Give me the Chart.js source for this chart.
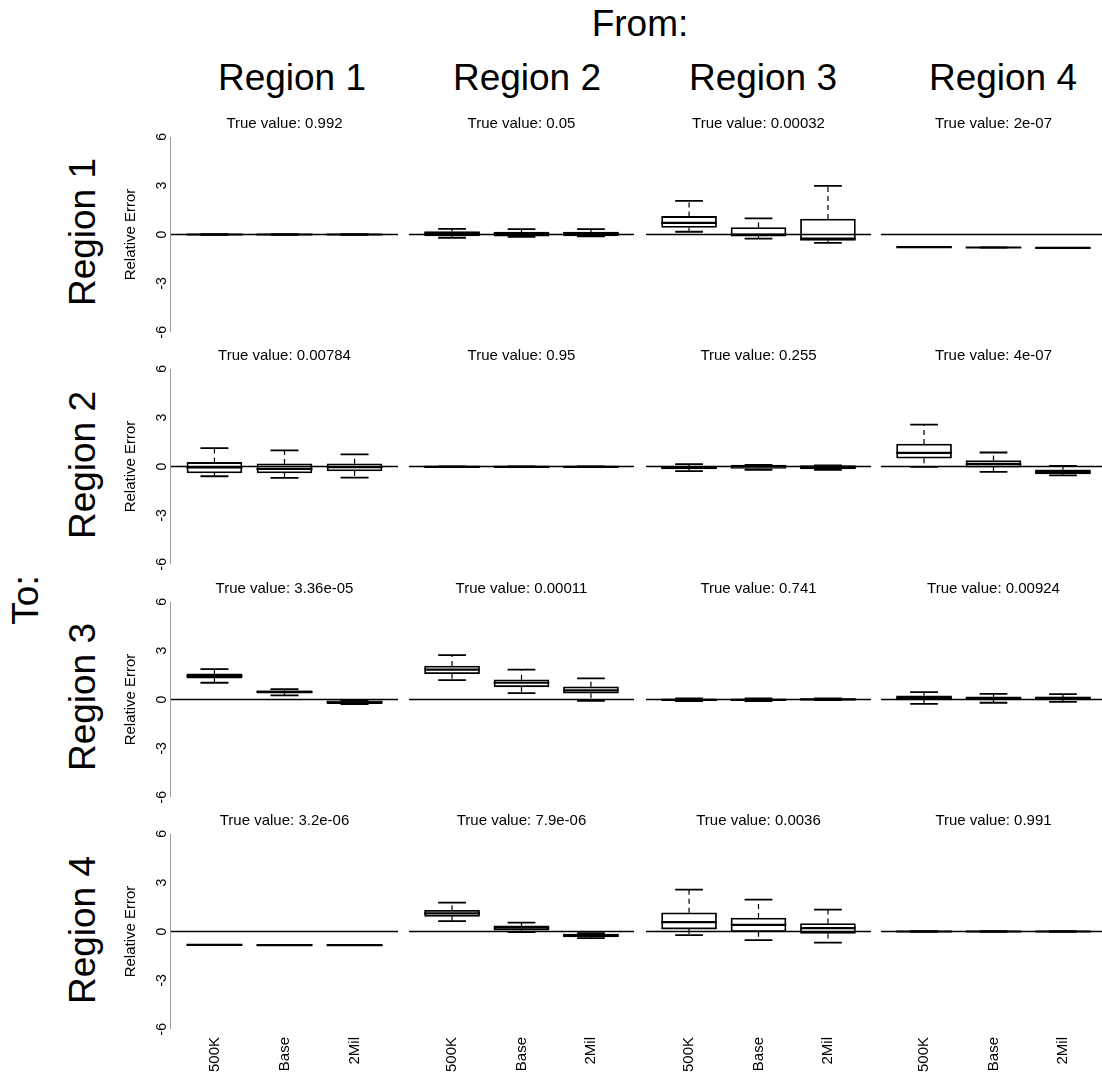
<!DOCTYPE html>
<html>
<head>
<meta charset="utf-8">
<script src="https://cdn.jsdelivr.net/npm/chart.js@4.4.0/dist/chart.umd.min.js"></script>
<style>
  html, body { margin: 0; padding: 0; background: #fff; overflow: hidden; }
  body { width: 1102px; height: 1087px; position: relative; font-family: "Liberation Sans", Arial, sans-serif; }
  canvas { position: absolute; }
  .lbl { position: absolute; font-size: 37px; line-height: 1; white-space: nowrap; color: #000; transform: translate(-50%, -50%); }
  .rot { transform: translate(-50%, -50%) rotate(-90deg); }
</style>
</head>
<body>
<script>
const groups = ['500K', 'Base', '2Mil']
const fromRegions = ['Region 1', 'Region 2', 'Region 3', 'Region 4']
const toRegions = ['Region 1', 'Region 2', 'Region 3', 'Region 4']
const trueValues = [
  '0.992', '0.05', '0.00032', '2e-07',
  '0.00784', '0.95', '0.255', '4e-07',
  '3.36e-05', '0.00011', '0.741', '0.00924',
  '3.2e-06', '7.9e-06', '0.0036', '0.991'
]
const yTicks = [-6, -3, 0, 3, 6]

// box stats, one triple (500K, Base, 2Mil) per panel, row by row (To), then column (From)
const lowWhisker = [
  [-0.02, -0.02, -0.02], [-0.2, -0.15, -0.12], [0.17, -0.25, -0.51], [-0.78, -0.8, -0.82],
  [-0.6, -0.7, -0.68], [-0.04, -0.04, -0.04], [-0.28, -0.2, -0.2], [-0.02, -0.33, -0.55],
  [1.03, 0.25, -0.28], [1.19, 0.39, -0.08], [-0.1, -0.1, -0.03], [-0.27, -0.2, -0.14],
  [-0.82, -0.84, -0.84], [0.64, -0.04, -0.41], [-0.22, -0.53, -0.68], [-0.02, -0.02, -0.02]
]
const lowerQuart = [
  [-0.01, -0.01, -0.01], [-0.08, -0.1, -0.08], [0.43, -0.1, -0.37], [-0.78, -0.8, -0.82],
  [-0.4, -0.39, -0.27], [-0.03, -0.03, -0.03], [-0.15, -0.12, -0.15], [0.51, -0.04, -0.45],
  [1.31, 0.39, -0.25], [1.58, 0.78, 0.39], [-0.06, -0.06, -0.02], [-0.02, -0.02, -0.02],
  [-0.82, -0.84, -0.84], [0.93, 0.08, -0.33], [0.15, -0.02, -0.12], [-0.01, -0.01, -0.01]
]
const medians = [
  [0, 0, 0], [0.05, 0.02, 0.05], [0.72, 0, -0.25], [-0.78, -0.8, -0.82],
  [-0.05, -0.14, -0.04], [-0.02, -0.02, -0.02], [-0.05, 0, -0.05], [0.84, 0.16, -0.35],
  [1.44, 0.47, -0.17], [1.83, 1.03, 0.56], [-0.02, -0.02, 0.01], [0.1, 0.05, 0.1],
  [-0.82, -0.84, -0.84], [1.11, 0.23, -0.25], [0.58, 0.41, 0.21], [0, 0, 0]
]
const upperQuart = [
  [0.01, 0.01, 0.01], [0.18, 0.15, 0.15], [1.11, 0.43, 0.95], [-0.78, -0.8, -0.82],
  [0.25, 0.16, 0.17], [-0.01, -0.01, -0.01], [0.02, 0.08, 0.05], [1.38, 0.37, -0.2],
  [1.58, 0.54, -0.08], [2.06, 1.21, 0.78], [0.03, 0.03, 0.04], [0.23, 0.17, 0.15],
  [-0.82, -0.84, -0.84], [1.3, 0.35, -0.16], [1.15, 0.83, 0.49], [0.01, 0.01, 0.01]
]
const highWhisker = [
  [0.02, 0.02, 0.02], [0.35, 0.33, 0.33], [2.06, 0.99, 2.99], [-0.78, -0.8, -0.82],
  [1.13, 0.99, 0.74], [0, 0, 0], [0.15, 0.1, 0.07], [2.57, 0.86, 0.04],
  [1.87, 0.64, -0.06], [2.72, 1.83, 1.3], [0.06, 0.06, 0.06], [0.45, 0.35, 0.33],
  [-0.82, -0.84, -0.84], [1.77, 0.54, -0.1], [2.57, 1.96, 1.34], [0.02, 0.02, 0.02]
]

const FONT = '"Liberation Sans", Arial, sans-serif'
const plotLeft = [171, 409, 646, 881]
const zeroY = [234, 466.5, 699, 931.5]

// whiskers, staples, medians, zero line, left axis line
const boxExtras = {
  id: 'boxExtras',
  afterDatasetsDraw (chart, args, opts) {
    const { ctx, chartArea } = chart
    const x = chart.scales.x
    const y = chart.scales.y
    const p = opts.panel
    const half = x.getPixelForValue(1.4) - x.getPixelForValue(1)
    const staple = half / 2
    ctx.save()
    ctx.strokeStyle = '#000'
    for (let i = 0; i < groups.length; i++) {
      const cx = x.getPixelForValue(i + 1)
      const lo = y.getPixelForValue(lowWhisker[p][i])
      const q1 = y.getPixelForValue(lowerQuart[p][i])
      const q3 = y.getPixelForValue(upperQuart[p][i])
      const hi = y.getPixelForValue(highWhisker[p][i])
      const md = y.getPixelForValue(medians[p][i])
      ctx.lineWidth = 1.2
      ctx.setLineDash([5, 4])
      ctx.beginPath()
      ctx.moveTo(cx, q3); ctx.lineTo(cx, hi)
      ctx.moveTo(cx, q1); ctx.lineTo(cx, lo)
      ctx.stroke()
      ctx.setLineDash([])
      ctx.lineWidth = 1.8
      ctx.beginPath()
      ctx.moveTo(cx - staple, hi); ctx.lineTo(cx + staple, hi)
      ctx.moveTo(cx - staple, lo); ctx.lineTo(cx + staple, lo)
      ctx.stroke()
      ctx.lineWidth = 2.2
      ctx.beginPath()
      ctx.moveTo(cx - half, md); ctx.lineTo(cx + half, md)
      ctx.stroke()
    }
    const z = y.getPixelForValue(0)
    ctx.lineWidth = 1.3
    ctx.beginPath()
    ctx.moveTo(chartArea.left, z); ctx.lineTo(chartArea.right, z)
    ctx.stroke()
    if (p % 4 === 0) {
      ctx.strokeStyle = '#999'
      ctx.lineWidth = 1
      ctx.beginPath()
      ctx.moveTo(chartArea.left - 0.5, y.getPixelForValue(yTicks[yTicks.length - 1]))
      ctx.lineTo(chartArea.left - 0.5, y.getPixelForValue(yTicks[0]))
      ctx.stroke()
    }
    ctx.restore()
  }
}

function makePanel (p) {
  const r = Math.floor(p / 4)
  const c = p % 4
  const yW = c === 0 ? 51 : 0
  const xH = r === 3 ? 56 : 12
  const plotW = c === 0 ? 227 : 225
  const plotH = 211
  const titleH = 14

  const canvas = document.createElement('canvas')
  canvas.width = yW + plotW
  canvas.height = titleH + plotH + xH
  canvas.style.left = (plotLeft[c] - yW) + 'px'
  canvas.style.top = (zeroY[r] - plotH / 2 - titleH) + 'px'
  document.body.appendChild(canvas)

  const boxes = groups.map((g, i) => ({ x: i + 1, y: [lowerQuart[p][i], upperQuart[p][i]] }))

  new Chart(canvas, {
    type: 'bar',
    data: {
      datasets: [{
        data: boxes,
        backgroundColor: '#fff',
        borderColor: '#000',
        borderWidth: 1.8,
        borderSkipped: false,
        barThickness: 55
      }]
    },
    options: {
      responsive: false,
      animation: false,
      events: [],
      plugins: {
        legend: { display: false },
        tooltip: { enabled: false },
        title: {
          display: true,
          fullSize: false,
          text: 'True value: ' + trueValues[p],
          color: '#000',
          font: { family: FONT, size: 15, weight: 'normal' },
          padding: { top: 0, bottom: -4 }
        },
        boxExtras: { panel: p }
      },
      scales: {
        x: {
          type: 'linear',
          offset: false,
          min: 0.38,
          max: 3.62,
          display: r === 3,
          grid: { display: false, drawTicks: false },
          border: { display: false },
          afterBuildTicks: s => { s.ticks = groups.map((g, i) => ({ value: i + 1 })) },
          afterFit: s => { s.height = xH },
          ticks: {
            callback: v => groups[v - 1],
            minRotation: 90,
            maxRotation: 90,
            padding: 0,
            color: '#000',
            font: { family: FONT, size: 15 }
          }
        },
        y: {
          min: -6.48,
          max: 6.48,
          display: c === 0,
          grid: { display: false, drawTicks: false },
          border: { display: false },
          afterBuildTicks: s => { s.ticks = yTicks.map(v => ({ value: v })) },
          afterFit: s => { s.width = yW },
          title: {
            display: true,
            text: 'Relative Error',
            color: '#000',
            font: { family: FONT, size: 15 },
            padding: { top: 2, bottom: 0 }
          },
          ticks: {
            minRotation: 90,
            maxRotation: 90,
            crossAlign: 'center',
            padding: 3,
            color: '#000',
            font: { family: FONT, size: 14 }
          }
        }
      }
    },
    plugins: [boxExtras]
  })
}

function addLabel (text, left, top, rotate) {
  const d = document.createElement('div')
  d.className = rotate ? 'lbl rot' : 'lbl'
  d.textContent = text
  d.style.left = left + 'px'
  d.style.top = top + 'px'
  document.body.appendChild(d)
}

addLabel('From:', 640, 23, false)
const headerX = [292, 527, 763, 1003]
fromRegions.forEach((t, i) => addLabel(t, headerX[i], 77, false))
addLabel('To:', 25, 600, true)
toRegions.forEach((t, i) => addLabel(t, 82, zeroY[i] - 2, true))

for (let p = 0; p < 16; p++) makePanel(p)
</script>
</body>
</html>
